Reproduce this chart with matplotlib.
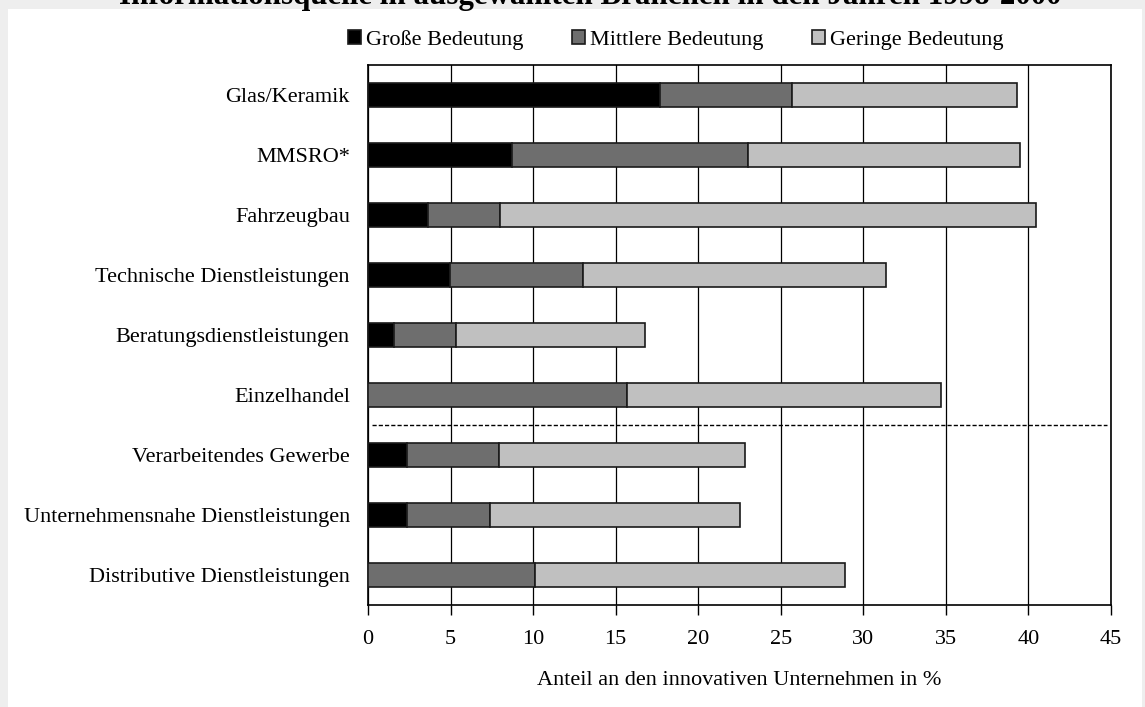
import matplotlib
matplotlib.use("Agg")
import matplotlib.pyplot as plt
from matplotlib.patches import Rectangle

categories = ["Glas/Keramik", "MMSRO*", "Fahrzeugbau", "Technische Dienstleistungen",
              "Beratungsdienstleistungen", "Einzelhandel", "Verarbeitendes Gewerbe",
              "Unternehmensnahe Dienstleistungen", "Distributive Dienstleistungen"]
gross = [17.7, 8.7, 3.65, 4.95, 1.55, 0.0, 2.35, 2.35, 0.0]
mittel = [7.95, 14.3, 4.35, 8.1, 3.8, 15.7, 5.6, 5.05, 10.1]
gering = [13.65, 16.5, 32.45, 18.35, 11.45, 19.0, 14.9, 15.1, 18.8]
series_labels = ["Große Bedeutung", "Mittlere Bedeutung", "Geringe Bedeutung"]
colors = ["#000000", "#6e6e6e", "#c0c0c0"]
xticks = [0, 5, 10, 15, 20, 25, 30, 35, 40, 45]
title = "Informationsquelle in ausgewählten Branchen in den Jahren 1998-2000"
xlabel = "Anteil an den innovativen Unternehmen in %"

plt.rcParams['font.family'] = ['Liberation Serif', 'DejaVu Serif']

fig = plt.figure(figsize=(11.45, 7.07), dpi=100)
fig.patch.set_facecolor('#eeeeee')
W, H = 1145, 707
fig.patches.append(Rectangle((8 / W, 0), (1142 - 8) / W, (698) / H,
                             transform=fig.transFigure, facecolor='white',
                             edgecolor='none', zorder=0))

ax = fig.add_axes([368 / W, 1 - 605 / H, (1111 - 368) / W, (605 - 65) / H])
ax.set_zorder(1)

y = list(range(len(categories)))
left = [0.0] * len(categories)
for vals, lab, col in zip([gross, mittel, gering], series_labels, colors):
    ax.barh(y, vals, left=left, height=0.41, color=col, edgecolor='#1a1a1a',
            linewidth=1.2, label=lab, zorder=3)
    left = [a + b for a, b in zip(left, vals)]

ax.set_xlim(0, 45)
ax.set_ylim(len(categories) - 0.5, -0.5)
ax.set_xticks(xticks)
ax.set_xticklabels([str(t) for t in xticks])
ax.set_yticks(y)
ax.set_yticklabels(categories)
ax.xaxis.grid(True, color='black', linewidth=0.9, zorder=0)
ax.set_axisbelow(True)
ax.axhline(5.5, color='black', linestyle=(0, (3, 1.5)), linewidth=1.0, xmin=0.006, xmax=0.995, zorder=4)

for s in ax.spines.values():
    s.set_linewidth(1.2)
ax.tick_params(axis='y', length=0, pad=13, labelsize=16)
ax.tick_params(axis='x', length=7, width=1.0, direction='out', pad=11, labelsize=16)
ax.set_xlabel(xlabel, fontsize=16, labelpad=16)

handles, labels = ax.get_legend_handles_labels()
fig.legend(handles, labels, loc='center', bbox_to_anchor=(676 / W, 1 - 40 / H), ncol=3,
           frameon=False, fontsize=16, handlelength=0.55, handleheight=0.55,
           handletextpad=0.25, columnspacing=2.2)

fig.text(590 / W, 1 - 4 / H, title, ha='center', va='baseline', fontsize=22.3,
         fontweight='bold')

fig.savefig('out.png', dpi=100, facecolor=fig.get_facecolor())
